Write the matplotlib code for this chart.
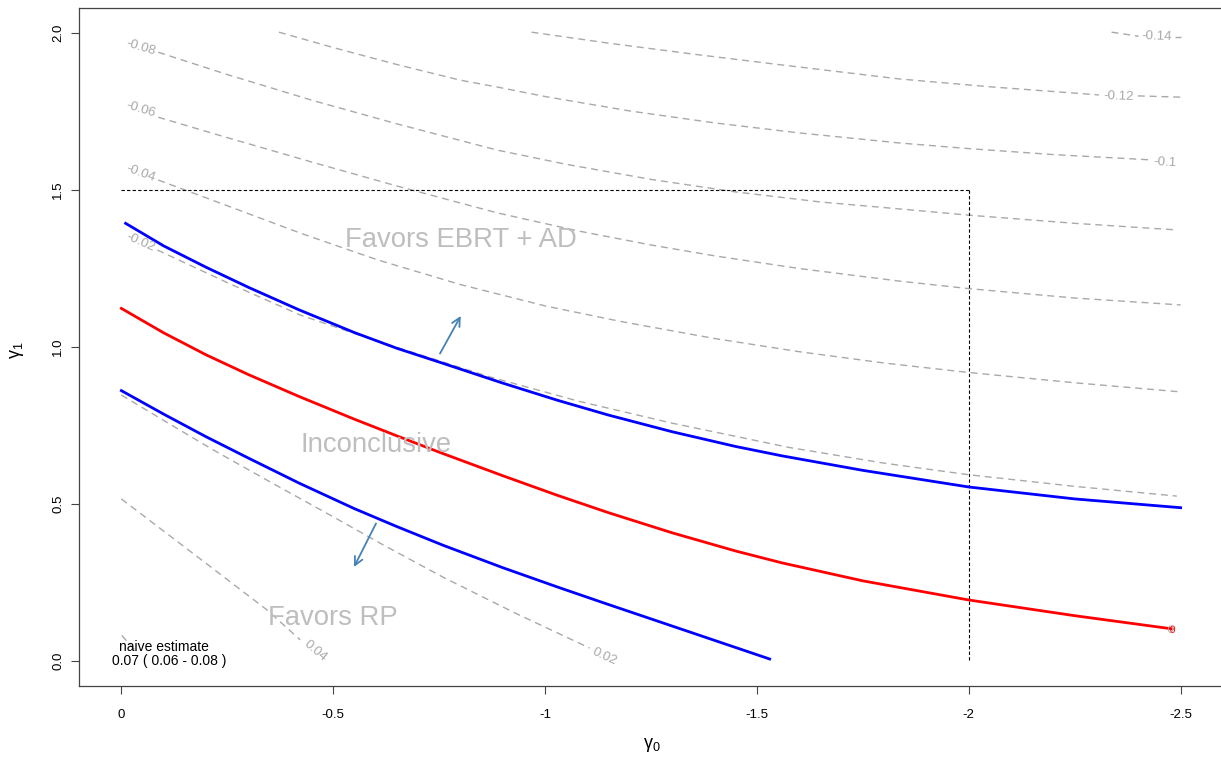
import matplotlib.pyplot as plt
import matplotlib.patheffects as pe

plt.rcParams['font.family'] = ['Liberation Sans', 'DejaVu Sans']
plt.rcParams['axes.unicode_minus'] = False
plt.rcParams['mathtext.fontset'] = 'custom'
plt.rcParams['mathtext.rm'] = 'Liberation Sans'
plt.rcParams['mathtext.it'] = 'Liberation Sans'

# boundary curves (gamma0, gamma1)
upper_x = [-0.01, -0.1, -0.2, -0.3, -0.42, -0.55, -0.65, -0.75, -0.9, -1.03, -1.15,
           -1.30, -1.45, -1.56, -1.75, -2.0, -2.25, -2.5]
upper_y = [1.394, 1.322, 1.254, 1.190, 1.118, 1.046, 0.996, 0.952, 0.885, 0.830, 0.783,
           0.730, 0.683, 0.653, 0.607, 0.554, 0.516, 0.488]
mid_x = [0.0, -0.1, -0.2, -0.3, -0.42, -0.55, -0.65, -0.75, -0.9, -1.03, -1.15, -1.30,
         -1.45, -1.56, -1.75, -2.0, -2.25, -2.48]
mid_y = [1.123, 1.045, 0.975, 0.912, 0.842, 0.770, 0.717, 0.665, 0.590, 0.527, 0.472, 0.408,
         0.350, 0.312, 0.255, 0.194, 0.144, 0.102]
lower_x = [0.0, -0.1, -0.2, -0.3, -0.42, -0.55, -0.65, -0.76, -0.9, -1.03, -1.14, -1.3, -1.53]
lower_y = [0.861, 0.786, 0.714, 0.646, 0.566, 0.485, 0.428, 0.368, 0.297, 0.235, 0.184,
           0.111, 0.006]

# contour lines of the bias, each a list of dashed pieces
c_m014 = [([-2.337, -2.401], [2.003, 1.990]), ([-2.486, -2.50], [1.987, 1.987])]
c_m012 = [([-0.968, -1.15, -1.35, -1.55, -1.836, -2.05, -2.307],
           [2.003, 1.968, 1.933, 1.900, 1.854, 1.829, 1.803]),
          ([-2.399, -2.50], [1.800, 1.796])]
c_m010 = [([-0.372, -0.5, -0.65, -0.8, -0.888, -1.0, -1.2, -1.4, -1.6, -1.836, -2.0, -2.2, -2.432],
           [2.003, 1.954, 1.900, 1.850, 1.828, 1.798, 1.752, 1.714, 1.682, 1.650, 1.632, 1.613, 1.596])]
c_m008 = [([-0.087, -0.25, -0.45, -0.65, -0.888, -1.05, -1.25, -1.45, -1.65, -1.836, -2.0, -2.25, -2.491],
           [1.939, 1.868, 1.786, 1.711, 1.627, 1.582, 1.534, 1.494, 1.462, 1.440, 1.420, 1.394, 1.373])]
c_m006 = [([-0.087, -0.25, -0.45, -0.65, -0.888, -1.077, -1.25, -1.402, -1.6, -1.836, -2.0, -2.25, -2.5],
           [1.732, 1.667, 1.589, 1.513, 1.427, 1.370, 1.325, 1.290, 1.250, 1.210, 1.186, 1.156, 1.134])]
c_m004 = [([-0.087, -0.25, -0.422, -0.606, -0.8, -1.0, -1.176, -1.4, -1.6, -1.8, -1.998, -2.25, -2.5],
           [1.532, 1.450, 1.363, 1.277, 1.199, 1.131, 1.082, 1.027, 0.985, 0.949, 0.919, 0.886, 0.857])]
c_m002 = [([-0.085, -0.25, -0.422, -0.55, -0.657, -0.869, -1.08, -1.301, -1.576, -1.8, -2.0, -2.25, -2.491],
           [1.309, 1.205, 1.102, 1.043, 0.996, 0.905, 0.827, 0.757, 0.680, 0.630, 0.593, 0.556, 0.525])]
c_p002 = [([0.0, -0.1, -0.217, -0.35, -0.492, -0.62, -0.763, -0.93, -1.105],
           [0.847, 0.766, 0.672, 0.571, 0.465, 0.368, 0.264, 0.152, 0.041])]
c_p004 = [([0.0, -0.186, -0.344, -0.422], [0.516, 0.325, 0.162, 0.067])]
c_p006 = [([-0.001, -0.038], [0.081, 0.025])]
contours = [c_m014, c_m012, c_m010, c_m008, c_m006, c_m004, c_m002, c_p002, c_p004, c_p006]

# contour labels: text, x, y, rotation
lab_text = ['-0.14', '-0.12', '-0.1', '-0.08', '-0.06', '-0.04', '-0.02', '0.02', '0.04']
lab_x = [-2.443, -2.354, -2.462, -0.045, -0.045, -0.045, -0.045, -1.140, -0.457]
lab_y = [1.990, 1.799, 1.588, 1.955, 1.755, 1.554, 1.332, 0.014, 0.030]
lab_rot = [-2, -2, -3, -17, -17, -20, -24, -25, -40]

# reference point
ref_x = -2.0
ref_y = 1.5

fig = plt.figure(figsize=(12.21, 7.57), dpi=100)
ax = fig.add_axes([79 / 1221, 71 / 757, 1144 / 1221, 678 / 757])

gcol = '#a9a9a9'
for pieces in contours:
    for xs, ys in pieces:
        ax.plot(xs, ys, color=gcol, lw=1.0, dashes=(5, 3.5))
for t, x, y, r in zip(lab_text, lab_x, lab_y, lab_rot):
    ax.text(x, y, t, color=gcol, fontsize=9.5, rotation=r, ha='center', va='center',
            rotation_mode='anchor')

ax.plot([0, ref_x], [ref_y, ref_y], color='black', lw=0.8, dashes=(3, 2))
ax.plot([ref_x, ref_x], [ref_y, 0], color='black', lw=0.8, dashes=(3, 2))

ax.plot(upper_x, upper_y, color='#0000ff', lw=2.0)
ax.plot(lower_x, lower_y, color='#0000ff', lw=2.0)
ax.plot(mid_x, mid_y, color='#ff0000', lw=2.0)
# the "0" level label sits under the red curve's end
ax.text(-2.481, 0.099, '0', color='#ff0000', fontsize=7.5, ha='center', va='center',
        path_effects=[pe.withSimplePatchShadow(offset=(-1.5, 0), shadow_rgbFace=gcol, alpha=1)])

acol = '#4682b4'
ax.annotate('', xy=(-0.801, 1.099), xytext=(-0.752, 0.979),
            arrowprops=dict(arrowstyle='->,head_length=0.6,head_width=0.3', color=acol, lw=1.3,
                            shrinkA=0, shrinkB=0))
ax.annotate('', xy=(-0.549, 0.299), xytext=(-0.601, 0.438),
            arrowprops=dict(arrowstyle='->,head_length=0.6,head_width=0.3', color=acol, lw=1.3,
                            shrinkA=0, shrinkB=0))

tcol = '#bebebe'
ax.text(-0.801, 1.318, 'Favors EBRT + AD', color=tcol, fontsize=19.8, ha='center', va='baseline')
ax.text(-0.600, 0.666, 'Inconclusive', color=tcol, fontsize=19.8, ha='center', va='baseline')
ax.text(-0.500, 0.115, 'Favors RP', color=tcol, fontsize=19.8, ha='center', va='baseline')

ax.text(-0.101, 0.032, 'naive estimate', fontsize=10, ha='center', va='baseline')
ax.text(-0.113, -0.013, '0.07 ( 0.06 - 0.08 )', fontsize=10, ha='center', va='baseline')

ax.set_xlim(0.1, -2.6)
ax.set_ylim(-0.08, 2.08)
xt = [0, -0.5, -1, -1.5, -2, -2.5]
ax.set_xticks(xt)
ax.set_xticklabels(['0', '-0.5', '-1', '-1.5', '-2', '-2.5'])
yt = [0, 0.5, 1.0, 1.5, 2.0]
ax.set_yticks(yt)
ax.set_yticklabels(['0.0', '0.5', '1.0', '1.5', '2.0'], rotation=90, va='center')
ax.tick_params(direction='out', length=6, width=0.8, color='#444444', labelsize=9.5)
ax.tick_params(axis='x', pad=10.5)
ax.tick_params(axis='y', pad=4.5)
for s in ax.spines.values():
    s.set_color('#444444')
    s.set_linewidth(0.9)

fig.text(652 / 1221, 1 - 745 / 757, r'$\gamma_0$', fontsize=13, ha='center', va='center')
fig.text(17 / 1221, 1 - 350 / 757, r'$\gamma_1$', fontsize=13, ha='center', va='center',
         rotation=90)

fig.savefig('out.png', dpi=100)
